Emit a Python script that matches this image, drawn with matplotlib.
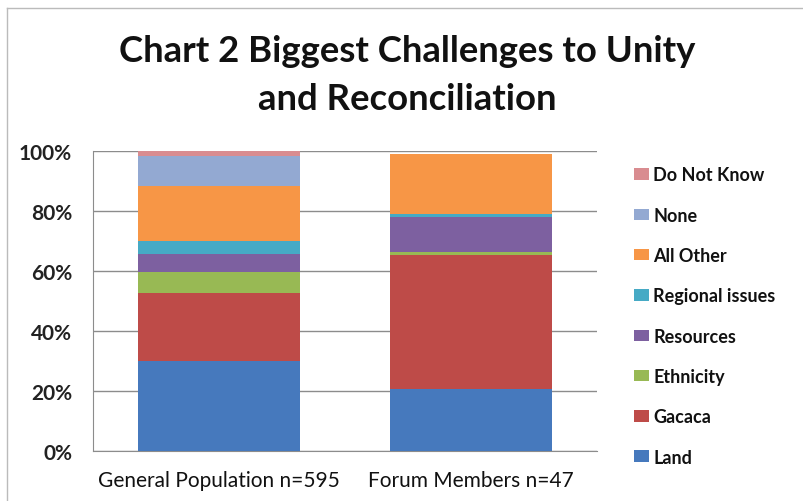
import matplotlib
matplotlib.use("Agg")
import matplotlib.pyplot as plt
from matplotlib.patches import Patch
from matplotlib.lines import Line2D

categories = ["General Population n=595", "Forum Members n=47"]
series_names = ["Land", "Gacaca", "Ethnicity", "Resources", "Regional issues",
                "All Other", "None", "Do Not Know"]
land = [30.1, 20.7]
gacaca = [22.6, 44.6]
ethnicity = [6.9, 1.0]
resources = [6.1, 11.7]
regional = [4.4, 1.1]
all_other = [18.3, 20.0]
none = [10.0, 0.0]
do_not_know = [1.6, 0.0]
series_values = [land, gacaca, ethnicity, resources, regional, all_other, none, do_not_know]
y_ticks = [0, 20, 40, 60, 80, 100]
y_tick_labels = ["0%", "20%", "40%", "60%", "80%", "100%"]
title_lines = ["Chart 2 Biggest Challenges to Unity", "and Reconciliation"]

colors = ["#4679BD", "#BE4B48", "#98B954", "#7D60A0", "#46AAC5",
          "#F79646", "#93A9D2", "#D98C90"]

plt.rcParams['font.family'] = ['Lato', 'DejaVu Sans']

fig = plt.figure(figsize=(8.04, 5.02), dpi=100)
ax = fig.add_axes([93/804, 1-452/502, 504/804, 300/502])

x = list(range(len(categories)))
bottom = [0.0]*len(categories)
for name, vals, c in zip(series_names, series_values, colors):
    ax.bar(x, vals, width=0.64, bottom=bottom, color=c, edgecolor='none', zorder=3)
    bottom = [b+v for b, v in zip(bottom, vals)]

ax.set_xlim(-0.5, 1.5)
ax.set_ylim(0, 100)
ax.set_yticks(y_ticks)
ax.set_yticklabels(y_tick_labels, fontsize=15, fontweight='bold', color='#222222')
ax.set_xticks(x)
ax.set_xticklabels(categories, fontsize=15, color='#111111')
ax.tick_params(axis='y', length=0, pad=15)
ax.tick_params(axis='x', length=0, pad=14)
ax.yaxis.grid(True, color='#8C8C8C', linewidth=1, zorder=0)
for s in ['top', 'right']:
    ax.spines[s].set_visible(False)
ax.spines['left'].set_color('#8C8C8C')
ax.spines['bottom'].set_color('#8C8C8C')

handles = [Patch(facecolor=c, edgecolor='none', label=n)
           for n, c in zip(series_names, colors)][::-1]
leg = fig.legend(handles=handles, loc='center left', bbox_to_anchor=(618/804, 1-317/502),
                 frameon=False, prop={'size': 13, 'weight': 'bold'},
                 handlelength=0.8, handleheight=0.6,
                 handletextpad=0.25, labelspacing=1.29, labelcolor='#111111')

fig.text(407/804, 1-52/502, title_lines[0],
         ha='center', va='center', fontsize=26.3, fontweight='bold', color='#111111')
fig.text(407/804, 1-99/502, title_lines[1],
         ha='center', va='center', fontsize=26.3, fontweight='bold', color='#111111')

fig.add_artist(Line2D([7/804, 1], [1-9/502, 1-9/502], transform=fig.transFigure,
                      color='#BBBBBB', linewidth=1))
fig.add_artist(Line2D([7/804, 7/804], [0, 1-9/502], transform=fig.transFigure,
                      color='#BBBBBB', linewidth=1))

fig.savefig("out.png", dpi=100)
